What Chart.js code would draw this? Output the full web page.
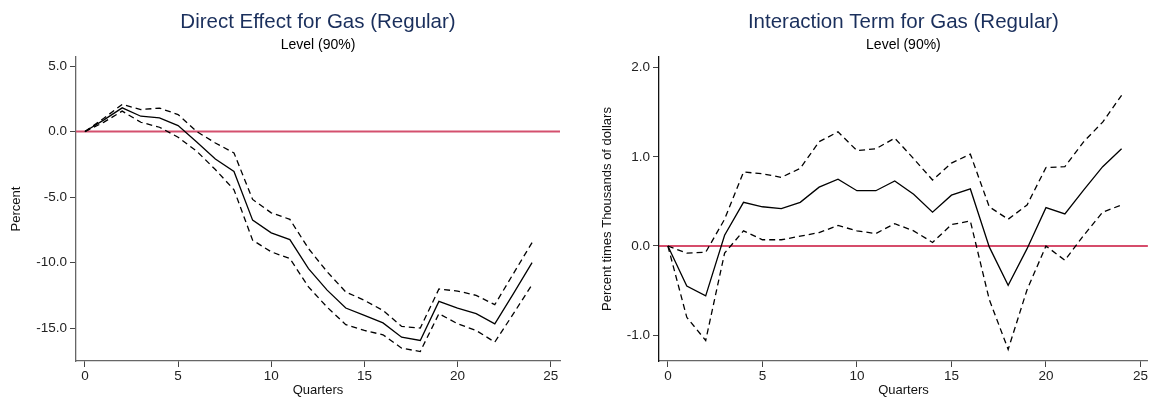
<!DOCTYPE html>
<html>
<head>
<meta charset="utf-8">
<script src="https://cdn.jsdelivr.net/npm/chart.js@4.4.0/dist/chart.umd.min.js"></script>
<style>
  html, body { margin: 0; padding: 0; background: #fff; }
  #wrap { position: relative; width: 1149px; height: 398px; }
  .panel { position: absolute; top: 0; height: 398px; }
  #left { left: 0; width: 574px; }
  #right { left: 574px; width: 575px; }
</style>
</head>
<body>
<div id="wrap">
  <div class="panel" id="left"><canvas id="directChart"></canvas></div>
  <div class="panel" id="right"><canvas id="interactChart"></canvas></div>
</div>
<script>
// quarters after the shock
const quarters = [0, 1, 2, 3, 4, 5, 6, 7, 8, 9, 10, 11, 12, 13, 14, 15, 16, 17, 18, 19, 20, 21, 22, 23, 24];
const xTicks = [0, 5, 10, 15, 20, 25];

// Direct effect (Percent)
const directEst = [0, 0.87, 1.81, 1.17, 1.05, 0.46, -0.8, -2.1, -3.04, -6.76, -7.73, -8.24, -10.46, -12.1, -13.47, -14.03, -14.6, -15.69, -15.94, -12.96, -13.47, -13.9, -14.67, -12.37, -10.0];
const directUpper = [0, 1.0, 2.07, 1.68, 1.79, 1.30, 0.0, -0.87, -1.63, -5.18, -6.2, -6.7, -8.93, -10.7, -12.24, -12.88, -13.65, -14.87, -15.0, -12.02, -12.17, -12.5, -13.21, -10.84, -8.47];
const directLower = [0, 0.7, 1.56, 0.71, 0.33, -0.43, -1.5, -2.9, -4.44, -8.29, -9.18, -9.69, -11.86, -13.4, -14.74, -15.18, -15.51, -16.53, -16.79, -13.9, -14.67, -15.18, -16.07, -13.9, -11.68];
const directTicks = [-15, -10, -5, 0, 5];

// Interaction term (Percent times Thousands of dollars)
const interEst = [0, -0.45, -0.56, 0.12, 0.49, 0.44, 0.42, 0.49, 0.66, 0.75, 0.62, 0.62, 0.73, 0.58, 0.38, 0.57, 0.64, -0.01, -0.44, -0.03, 0.43, 0.36, 0.63, 0.89, 1.09];
const interUpper = [0, -0.08, -0.07, 0.3, 0.83, 0.81, 0.77, 0.87, 1.17, 1.28, 1.07, 1.09, 1.21, 0.98, 0.74, 0.93, 1.03, 0.44, 0.30, 0.46, 0.88, 0.89, 1.17, 1.39, 1.69];
const interLower = [0, -0.80, -1.06, -0.08, 0.17, 0.07, 0.07, 0.11, 0.15, 0.23, 0.17, 0.14, 0.25, 0.17, 0.04, 0.24, 0.28, -0.6, -1.16, -0.49, 0.0, -0.16, 0.12, 0.38, 0.46];
const interTicks = [-1, 0, 1, 2];

const FONT = '"Liberation Sans", Arial, Helvetica, sans-serif';

// zero line + titles centred over the plot region (like Stata does)
const panelDecor = {
    id: 'panelDecor',
    beforeDatasetsDraw(chart, args, opts) {
        const { ctx, chartArea } = chart;
        const y0 = chart.scales.y.getPixelForValue(0);
        ctx.save();
        ctx.strokeStyle = opts.zeroColor;
        ctx.lineWidth = opts.zeroWidth;
        ctx.beginPath();
        ctx.moveTo(chartArea.left, y0);
        ctx.lineTo(chartArea.right, y0);
        ctx.stroke();
        ctx.restore();
    },
    afterDraw(chart, args, opts) {
        const { ctx, chartArea } = chart;
        const cx = (chartArea.left + chartArea.right) / 2;
        ctx.save();
        ctx.textAlign = 'center';
        ctx.textBaseline = 'middle';
        ctx.fillStyle = '#1a2f5c';
        ctx.font = '20.5px ' + FONT;
        ctx.fillText(opts.title, cx, 22);
        ctx.fillStyle = '#000';
        ctx.font = '14px ' + FONT;
        ctx.fillText(opts.subtitle, cx, 45);
        ctx.restore();
    }
};

function toPoints(values) {
    return values.map((v, i) => ({ x: quarters[i], y: v }));
}

function makePanel(canvasId, p) {
    const ctx = document.getElementById(canvasId).getContext('2d');
    const lineStyle = (data, dashed) => ({
        data: toPoints(data),
        borderColor: '#000',
        borderWidth: 1.3,
        borderDash: dashed ? [6, 4] : [],
        pointRadius: 0,
        tension: 0,
        fill: false
    });
    return new Chart(ctx, {
        type: 'line',
        data: {
            datasets: [
                lineStyle(p.upper, true),
                lineStyle(p.lower, true),
                lineStyle(p.est, false)
            ]
        },
        options: {
            responsive: true,
            maintainAspectRatio: false,
            animation: false,
            layout: { padding: { top: 57, right: p.padRight, bottom: 0, left: 0 } },
            plugins: {
                legend: { display: false },
                tooltip: { enabled: false },
                panelDecor: { title: p.title, subtitle: p.subtitle, zeroColor: p.zeroColor, zeroWidth: p.zeroWidth }
            },
            scales: {
                x: {
                    type: 'linear',
                    min: p.xMin,
                    max: p.xMax,
                    afterBuildTicks: (s) => { s.ticks = xTicks.map(v => ({ value: v })); },
                    afterFit: (s) => { s.height = 37; },
                    grid: { display: true, drawOnChartArea: false, drawTicks: true, tickLength: 6, color: '#444' },
                    border: { display: true, color: '#666', width: 1.3 },
                    ticks: { color: '#222', padding: 1, font: { family: FONT, size: 13.5 }, maxRotation: 0 },
                    title: { display: true, text: 'Quarters', color: '#111', padding: { top: 0, bottom: 0 }, font: { family: FONT, size: 13 } }
                },
                y: {
                    type: 'linear',
                    min: p.yMin,
                    max: p.yMax,
                    afterBuildTicks: (s) => { s.ticks = p.yTicks.map(v => ({ value: v })); },
                    afterFit: (s) => { s.width = p.yWidth; },
                    grid: { display: true, drawOnChartArea: false, drawTicks: true, tickLength: 6, color: '#444' },
                    border: { display: true, color: p.yAxisColor, width: 1.3 },
                    ticks: { color: '#222', padding: 3, font: { family: FONT, size: 13.5 }, callback: (v) => Number(v).toFixed(1) },
                    title: { display: true, text: p.yTitle, color: '#111', padding: { top: p.yTitlePad, bottom: 0 }, font: { family: FONT, size: 13 } }
                }
            }
        },
        plugins: [panelDecor]
    });
}

makePanel('directChart', {
    title: 'Direct Effect for Gas (Regular)',
    subtitle: 'Level (90%)',
    yTitle: 'Percent',
    est: directEst, upper: directUpper, lower: directLower,
    yTicks: directTicks,
    xMin: -0.48, xMax: 25.5,
    yMin: -17.51, yMax: 5.69,
    yWidth: 76, yTitlePad: 9, padRight: 14,
    yAxisColor: '#666',
    zeroColor: '#d4506e', zeroWidth: 2
});

makePanel('interactChart', {
    title: 'Interaction Term for Gas (Regular)',
    subtitle: 'Level (90%)',
    yTitle: 'Percent times Thousands of dollars',
    est: interEst, upper: interUpper, lower: interLower,
    yTicks: interTicks,
    xMin: -0.47, xMax: 25.39,
    yMin: -1.29, yMax: 2.12,
    yWidth: 85, yTitlePad: 26, padRight: 0,
    yAxisColor: '#111',
    zeroColor: '#c8103a', zeroWidth: 1.5
});
</script>
</body>
</html>
